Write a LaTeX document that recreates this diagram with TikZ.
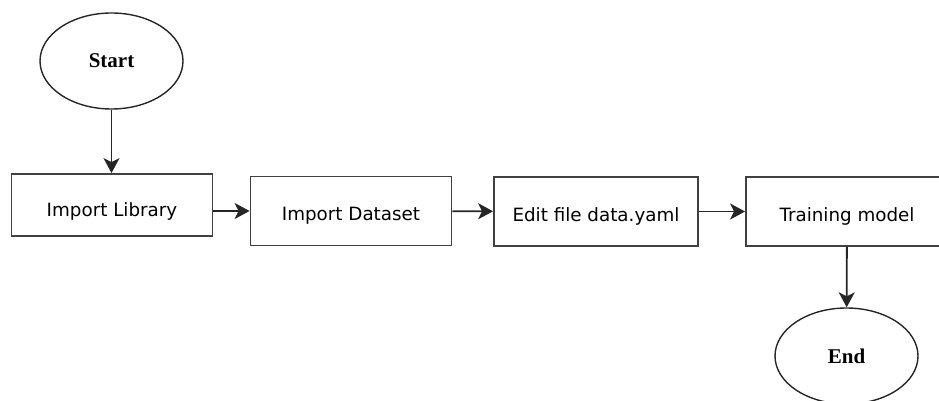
\documentclass[tikz,border=0pt]{standalone}
\usepackage{fontspec}
\setmainfont{Liberation Serif}
\newfontfamily\boxfont{DejaVu Sans}
\usetikzlibrary{shapes.geometric,arrows.meta}
\begin{document}
\begin{tikzpicture}[x=1pt,y=-1pt,
  line width=1.8pt,
  terminal/.style={draw=black!85, line width=1.4pt, ellipse, minimum width=143pt, minimum height=96pt, inner sep=0pt, font=\fontsize{21}{25}\selectfont\bfseries},
  stepbox/.style={draw=black!75, rectangle, minimum height=69pt, inner sep=0pt, text height=19pt, text depth=0pt, font=\boxfont\fontsize{18.3}{22}\selectfont},
  conn/.style={draw=black!85, -{Stealth[length=15pt,width=16pt,inset=4pt]}}]
\useasboundingbox (0,0) rectangle (939,401);
\begin{scope}
\clip (0,0) rectangle (939,401);
\node[terminal] (start) at (111.5,61) {Start};
\node[stepbox, minimum width=201pt, minimum height=62pt, text height=23pt] (lib) at (112,205) {Import Library};
\node[stepbox, minimum width=201pt] (ds) at (351,211) {Import Dataset};
\node[stepbox, minimum width=204pt] (edit) at (596,211.5) {Edit file data.yaml};
\node[stepbox, minimum width=202pt] (train) at (847,211.5) {Training model};
\node[terminal] (end) at (846.5,356) {End};
\draw[conn] (start) -- (start |- lib.north);
\draw[conn] (lib.east |- ds) -- (ds);
\draw[conn] (ds) -- (edit);
\draw[conn] (edit) -- (train);
\draw[conn] (train) -- (end);
\end{scope}
\end{tikzpicture}
\end{document}
